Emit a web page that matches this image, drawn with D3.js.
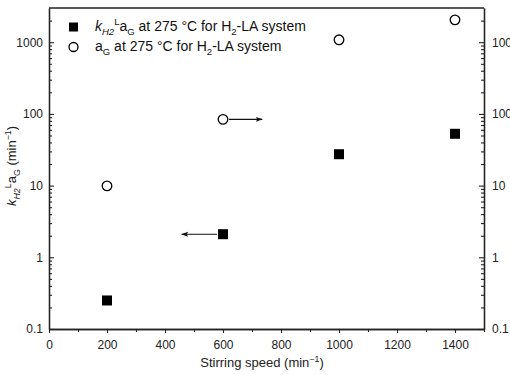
<!DOCTYPE html>
<html>
<head>
<meta charset="utf-8">
<script src="https://cdn.jsdelivr.net/npm/d3@7"></script>
<style>
  html, body { margin: 0; padding: 0; background: #fff; }
  svg { display: block; font-family: "Liberation Sans", Arial, sans-serif; }
</style>
</head>
<body>
<svg id="chart" width="510" height="375"></svg>
<script>
// Stirring speeds (min^-1)
const speeds = [200, 600, 1000, 1400];
// kH2L·aG at 275 °C for the H2-LA system (min^-1), left axis
const kLaValues = [0.25, 2.1, 27.4, 52.8];
// aG at 275 °C for the H2-LA system, right axis
const aGValues = [9.9, 84, 1080, 2050];

// Axis ticks
const xMajorTicks = [0, 200, 400, 600, 800, 1000, 1200, 1400];
const xMinorTicks = [100, 300, 500, 700, 900, 1100, 1300, 1500];
const yMajorTicks = [0.1, 1, 10, 100, 1000];
const yTickLabels = ["0.1", "1", "10", "100", "1000"];
const yMinorTicks = [];
[0.1, 1, 10, 100, 1000].forEach(d => {
  for (let m = 2; m <= 9; m++) { const v = +(d * m).toPrecision(3); if (v < 3000) yMinorTicks.push(v); }
});

// Arrow annotations: which series each arrow belongs to and where it points (speed units)
const arrowSeries = ["aG", "kLa"];
const arrowFrom = [600, 600];
const arrowTo = [735, 458];

const svg = d3.select("#chart");
const plotL = 49, plotR = 484, plotT = 8, plotB = 329;
const x = d3.scaleLinear().domain([0, 1500]).range([plotL, plotR]);
const y = d3.scaleLog().domain([0.1, 3000]).range([plotB, plotT]);

const axisColor = "#222";
const fs = 12;

// defs: arrowhead
svg.append("defs").append("marker")
  .attr("id", "arrowhead")
  .attr("viewBox", "0 0 10 10")
  .attr("refX", 9).attr("refY", 5)
  .attr("markerWidth", 9).attr("markerHeight", 7)
  .attr("markerUnits", "userSpaceOnUse")
  .attr("orient", "auto")
  .append("path").attr("d", "M0,1.5 L10,5 L0,8.5 L2,5 Z").attr("fill", "#111");

function styleAxis(g) {
  g.select(".domain").attr("stroke", axisColor).attr("stroke-width", 1.3);
  g.selectAll(".tick line").attr("stroke", axisColor).attr("stroke-width", 1.1);
  g.selectAll(".tick text").attr("fill", "#222").attr("font-size", fs)
    .attr("font-family", "Liberation Sans, Arial, sans-serif");
}

// x axis: major with labels, minor without
svg.append("g").attr("transform", `translate(0,${plotB})`)
  .call(d3.axisBottom(x).tickValues(xMinorTicks).tickSize(3).tickSizeOuter(0).tickFormat(""))
  .call(styleAxis);
svg.append("g").attr("transform", `translate(0,${plotB})`)
  .call(d3.axisBottom(x).tickValues(xMajorTicks).tickSize(4).tickSizeOuter(0).tickPadding(7).tickFormat(d3.format("d")))
  .call(styleAxis);

// left y axis, ticks point inward
svg.append("g").attr("transform", `translate(${plotL},0)`)
  .call(d3.axisLeft(y).tickValues(yMinorTicks).tickSize(-3).tickSizeOuter(0).tickFormat(""))
  .call(styleAxis);
svg.append("g").attr("transform", `translate(${plotL},0)`)
  .call(d3.axisLeft(y).tickValues(yMajorTicks).tickSize(-5).tickSizeOuter(0).tickPadding(6)
    .tickFormat((d, i) => yTickLabels[i]))
  .call(styleAxis)
  .call(g => g.selectAll(".tick text").attr("x", -6));

// right y axis, ticks point inward; its labels run off the right edge
svg.append("g").attr("transform", `translate(${plotR},0)`)
  .call(d3.axisRight(y).tickValues(yMinorTicks).tickSize(-3).tickSizeOuter(0).tickFormat(""))
  .call(styleAxis);
svg.append("g").attr("transform", `translate(${plotR},0)`)
  .call(d3.axisRight(y).tickValues(yMajorTicks).tickSize(-5).tickSizeOuter(0)
    .tickFormat((d, i) => yTickLabels[i]))
  .call(styleAxis)
  .call(g => g.selectAll(".tick text").attr("x", 8));

// top frame line
svg.append("line").attr("x1", plotL).attr("x2", plotR).attr("y1", plotT).attr("y2", plotT)
  .attr("stroke", axisColor).attr("stroke-width", 1.3);

// rich text helper: pieces [{t, it, sh}] where sh is 'sub' | 'sup' | undefined
function richText(sel, pieces, size) {
  const small = size * 0.68;
  const off = { sub: size * 0.3, sup: -size * 0.42 };
  let cur = 0;
  pieces.forEach(p => {
    const target = p.sh ? off[p.sh] : 0;
    const ts = sel.append("tspan").text(p.t);
    if (target !== cur) ts.attr("dy", target - cur);
    cur = target;
    if (p.it) ts.attr("font-style", "italic");
    if (p.sh) ts.attr("font-size", small);
  });
}

const kLaPieces = [
  { t: "k", it: true }, { t: "H2", it: true, sh: "sub" }, { t: "L", sh: "sup" },
  { t: "a" }, { t: "G", sh: "sub" }
];

// axis titles
const xTitle = svg.append("text").attr("x", 262).attr("y", 367)
  .attr("text-anchor", "middle").attr("font-size", 13).attr("fill", "#222");
richText(xTitle, [{ t: "Stirring speed (min" }, { t: "\u22121", sh: "sup" }, { t: ")" }], 13);

const yTitle = svg.append("text")
  .attr("transform", "translate(16,166) rotate(-90)")
  .attr("text-anchor", "middle").attr("font-size", 13).attr("fill", "#222");
richText(yTitle, kLaPieces.concat([{ t: " (min" }, { t: "\u22121", sh: "sup" }, { t: ")" }]), 13);

// arrows
arrowSeries.forEach((s, i) => {
  const vals = s === "aG" ? aGValues : kLaValues;
  const idx = speeds.indexOf(arrowFrom[i]);
  const yy = y(vals[idx]);
  const dir = Math.sign(arrowTo[i] - arrowFrom[i]);
  svg.append("line")
    .attr("x1", x(arrowFrom[i]) + dir * 6).attr("x2", x(arrowTo[i]))
    .attr("y1", yy).attr("y2", yy)
    .attr("stroke", "#111").attr("stroke-width", 1.1)
    .attr("marker-end", "url(#arrowhead)");
});

// data marks
const sq = 10;
svg.append("g").selectAll("rect").data(speeds).join("rect")
  .attr("x", (d) => x(d) - sq / 2)
  .attr("y", (d, i) => y(kLaValues[i]) - sq / 2)
  .attr("width", sq).attr("height", sq).attr("fill", "#000");

svg.append("g").selectAll("circle").data(speeds).join("circle")
  .attr("cx", d => x(d))
  .attr("cy", (d, i) => y(aGValues[i]))
  .attr("r", 4.8).attr("fill", "#fff").attr("stroke", "#000").attr("stroke-width", 1.3);

// legend
const lg = svg.append("g");
lg.append("rect").attr("x", 69).attr("y", 22.5).attr("width", 9).attr("height", 9).attr("fill", "#000");
lg.append("circle").attr("cx", 73.5).attr("cy", 47).attr("r", 4.5)
  .attr("fill", "#fff").attr("stroke", "#000").attr("stroke-width", 1.3);

const lfs = 14;
const l1 = lg.append("text").attr("x", 95).attr("y", 31).attr("font-size", lfs).attr("fill", "#111");
richText(l1, kLaPieces.concat([{ t: " at 275 \u00B0C for H" }, { t: "2", sh: "sub" }, { t: "-LA system" }]), lfs);
const l2 = lg.append("text").attr("x", 95).attr("y", 51).attr("font-size", lfs).attr("fill", "#111");
richText(l2, [{ t: "a" }, { t: "G", sh: "sub" }, { t: " at 275 \u00B0C for H" }, { t: "2", sh: "sub" }, { t: "-LA system" }], lfs);
</script>
</body>
</html>
